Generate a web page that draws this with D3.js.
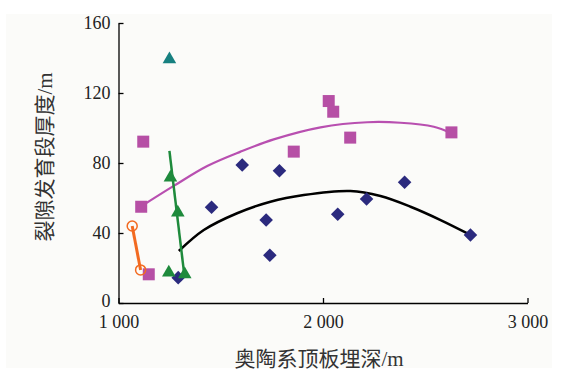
<!DOCTYPE html>
<html>
<head>
<meta charset="utf-8">
<script src="https://cdn.jsdelivr.net/npm/d3@7"></script>
<style>
body { margin: 0; background: #ffffff; }
</style>
</head>
<body>
<script>
// depth of Ordovician roof vs thickness of the fractured section
var xTicks = [1000, 2000, 3000];
var xTickLabels = ["1 000", "2 000", "3 000"];
var yTicks = [0, 40, 80, 120, 160];

// blue diamonds
var diamondX = [1292, 1455, 1605, 1740, 1722, 1787, 2072, 2213, 2399, 2721];
var diamondY = [14.5, 54.7, 78.9, 27.3, 47.4, 75.6, 50.7, 59.4, 69.0, 38.9];

// magenta squares
var squareX = [1111, 1148, 1121, 1857, 2028, 2050, 2133, 2628];
var squareY = [55.0, 16.4, 92.2, 86.5, 115.4, 109.3, 94.5, 97.5];

// green triangles + the single teal one
var triX = [1254, 1290, 1246, 1324];
var triY = [72.2, 52.2, 17.9, 17.0];
var tealX = [1249];
var tealY = [139.8];

// orange open circles
var circX = [1067, 1108];
var circY = [44.0, 18.9];

// trend lines
var blackLineX = [1295, 1417, 1580, 1743, 1906, 2134, 2281, 2428, 2575, 2721];
var blackLineY = [29.7, 41.7, 51.3, 57.9, 61.7, 64.0, 61.1, 55.0, 47.4, 38.9];
var pinkLineX = [1108, 1270, 1434, 1597, 1759, 1988, 2216, 2379, 2542, 2623];
var pinkLineY = [55.0, 66.9, 78.3, 86.5, 93.5, 100.4, 103.3, 103.0, 100.7, 97.3];
var greenLineX = [1249, 1323];
var greenLineY = [86.9, 14.9];

function pairs(xs, ys) {
    return xs.map(function (d, i) { return [d, ys[i]]; });
}

var svg = d3.select("body").append("svg")
    .attr("width", 569)
    .attr("height", 375);

svg.append("rect")
    .attr("x", 6).attr("y", 14)
    .attr("width", 546).attr("height", 354)
    .attr("fill", "#fbfbf9");

var x = d3.scaleLinear().domain([1000, 3000]).range([118.5, 527.5]);
var y = d3.scaleLinear().domain([0, 160]).range([303, 23]);

var tickFont = "'Liberation Serif', 'Times New Roman', serif";

var xAxis = svg.append("g")
    .attr("transform", "translate(0,303)")
    .call(d3.axisBottom(x).tickValues(xTicks)
        .tickFormat(function (d, i) { return xTickLabels[i]; })
        .tickSizeInner(-5).tickSizeOuter(0).tickPadding(12));

var yAxis = svg.append("g")
    .attr("transform", "translate(118.5,0)")
    .call(d3.axisLeft(y).tickValues(yTicks)
        .tickSizeInner(-5).tickSizeOuter(0).tickPadding(8));

[xAxis, yAxis].forEach(function (g) {
    g.selectAll("path, line").attr("stroke", "#000").attr("stroke-width", 1.3);
    g.selectAll("text")
        .attr("fill", "#222")
        .style("font-family", tickFont)
        .style("font-size", "18px");
});

// the 0 label sits tight above "1 000", lift it a touch
yAxis.selectAll(".tick text")
    .filter(function (d) { return d === 0; })
    .attr("dy", "0.2em");

// axis titles
var titleFont = "'Liberation Serif', 'Noto Sans CJK SC', serif";
svg.append("text")
    .attr("x", 319).attr("y", 366)
    .attr("text-anchor", "middle")
    .style("font-family", titleFont)
    .style("font-size", "21px")
    .attr("fill", "#333")
    .text("奥陶系顶板埋深/m");

svg.append("text")
    .attr("transform", "translate(52,157) rotate(-90)")
    .attr("text-anchor", "middle")
    .style("font-family", titleFont)
    .style("font-size", "21px")
    .attr("fill", "#333")
    .text("裂隙发育段厚度/m");

var line = d3.line()
    .x(function (d) { return x(d[0]); })
    .y(function (d) { return y(d[1]); })
    .curve(d3.curveCatmullRom);

// lines under the markers
svg.append("path")
    .datum(pairs(pinkLineX, pinkLineY))
    .attr("d", line)
    .attr("fill", "none")
    .attr("stroke", "#b84fb0")
    .attr("stroke-width", 2.2);

svg.append("path")
    .datum(pairs(blackLineX, blackLineY))
    .attr("d", line)
    .attr("fill", "none")
    .attr("stroke", "#000")
    .attr("stroke-width", 2.5);

svg.append("path")
    .datum(pairs(greenLineX, greenLineY))
    .attr("d", line)
    .attr("fill", "none")
    .attr("stroke", "#1e8a3c")
    .attr("stroke-width", 2.5);

svg.append("path")
    .datum(pairs(circX, circY))
    .attr("d", line)
    .attr("fill", "none")
    .attr("stroke", "#f26a21")
    .attr("stroke-width", 3);

// markers
svg.selectAll(".diamond")
    .data(pairs(diamondX, diamondY))
    .enter()
    .append("path")
    .attr("class", "diamond")
    .attr("d", d3.symbol().type(d3.symbolSquare).size(92))
    .attr("transform", function (d) {
        return "translate(" + x(d[0]) + "," + y(d[1]) + ") rotate(45)";
    })
    .style("fill", "#2b2a7e");

svg.selectAll(".square")
    .data(pairs(squareX, squareY))
    .enter()
    .append("path")
    .attr("class", "square")
    .attr("d", d3.symbol().type(d3.symbolSquare).size(144))
    .attr("transform", function (d) {
        return "translate(" + x(d[0]) + "," + y(d[1]) + ")";
    })
    .style("fill", "#b64fa5");

svg.selectAll(".tri")
    .data(pairs(triX, triY))
    .enter()
    .append("path")
    .attr("class", "tri")
    .attr("d", d3.symbol().type(d3.symbolTriangle).size(80))
    .attr("transform", function (d) {
        return "translate(" + x(d[0]) + "," + (y(d[1]) + 1) + ")";
    })
    .style("fill", "#1e8a3c");

svg.selectAll(".teal")
    .data(pairs(tealX, tealY))
    .enter()
    .append("path")
    .attr("class", "teal")
    .attr("d", d3.symbol().type(d3.symbolTriangle).size(80))
    .attr("transform", function (d) {
        return "translate(" + x(d[0]) + "," + (y(d[1]) + 1) + ")";
    })
    .style("fill", "#178080");

svg.selectAll(".circ")
    .data(pairs(circX, circY))
    .enter()
    .append("circle")
    .attr("class", "circ")
    .attr("cx", function (d) { return x(d[0]); })
    .attr("cy", function (d) { return y(d[1]); })
    .attr("r", 5)
    .attr("fill", "none")
    .attr("stroke", "#f26a21")
    .attr("stroke-width", 1.5);
</script>
</body>
</html>
